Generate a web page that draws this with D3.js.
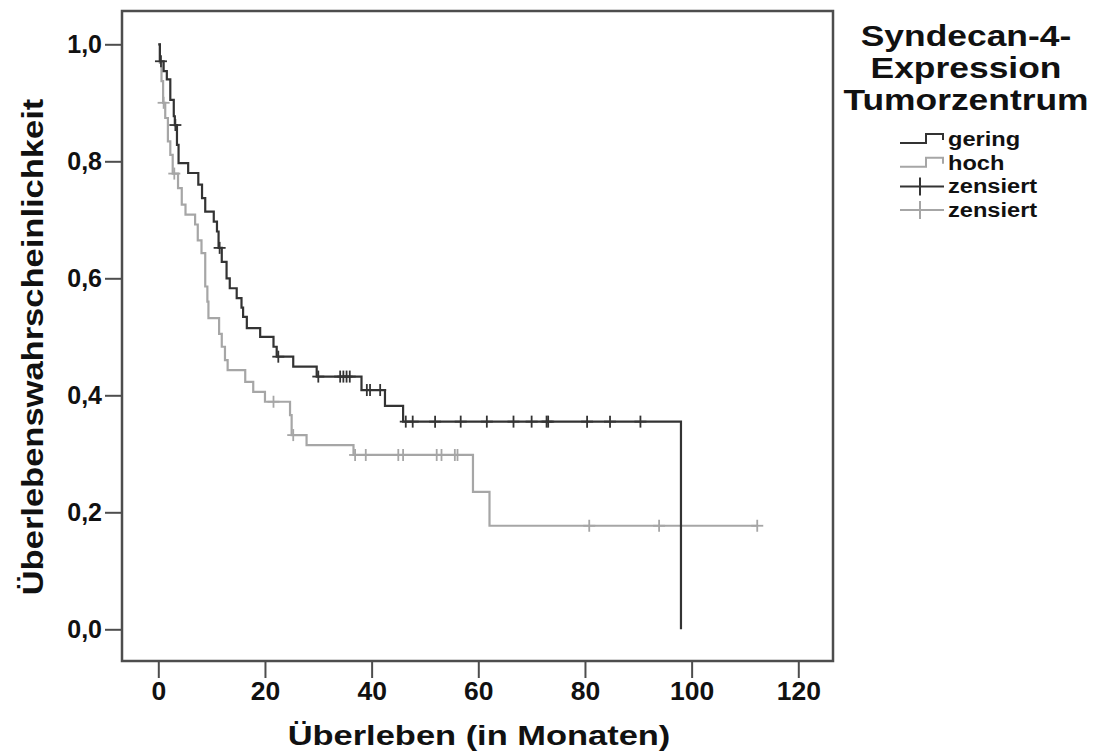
<!DOCTYPE html>
<html>
<head>
<meta charset="utf-8">
<script src="https://cdn.jsdelivr.net/npm/d3@7"></script>
<style>
  body { margin: 0; background: #fff; }
  text { font-family: "Liberation Sans", Arial, sans-serif; font-weight: bold; fill: #111; }
</style>
</head>
<body>
<div id="chart"></div>
<script>
// Kaplan-Meier steps: time (months) and survival after each event
const geringTimes = [0, 0.3, 1.0, 1.6, 2.25, 2.9, 3.1, 3.5, 3.8, 5.6, 7.5, 8.2, 8.8, 10.4, 11.0, 11.3, 11.9, 12.8, 13.4, 14.7, 15.6, 15.9, 16.6, 19.1, 21.6, 22.2, 25.3, 29.7, 38.1, 42.5, 45.9, 98.0];
const geringSurv  = [1.0, 0.971, 0.954, 0.94, 0.905, 0.877, 0.862, 0.828, 0.797, 0.78, 0.76, 0.737, 0.714, 0.697, 0.68, 0.652, 0.628, 0.6, 0.583, 0.566, 0.55, 0.534, 0.515, 0.5, 0.483, 0.466, 0.449, 0.432, 0.409, 0.382, 0.355, 0.0];
const geringCensored = [0.5, 3.2, 11.5, 22.5, 30.0, 34.1, 34.7, 35.3, 35.9, 39.1, 39.7, 41.6, 46.4, 47.7, 51.9, 56.7, 61.6, 66.6, 70.0, 72.8, 73.1, 80.4, 84.7, 90.4];

const hochTimes = [0, 0.3, 0.6, 0.9, 1.3, 1.8, 2.25, 2.7, 3.7, 4.4, 5.1, 6.9, 7.4, 8.1, 8.8, 9.2, 9.4, 11.4, 11.9, 12.5, 13.0, 16.3, 17.8, 20.0, 24.7, 25.0, 27.8, 36.6, 59.0, 62.1, 112.3];
const hochSurv  = [1.0, 0.968, 0.937, 0.9, 0.874, 0.834, 0.811, 0.779, 0.754, 0.726, 0.709, 0.692, 0.665, 0.643, 0.586, 0.56, 0.532, 0.505, 0.483, 0.46, 0.443, 0.423, 0.406, 0.389, 0.366, 0.332, 0.315, 0.298, 0.235, 0.177, 0.177];
const hochCensored = [1.0, 3.0, 21.6, 25.3, 36.9, 38.9, 45.0, 45.9, 52.2, 53.1, 55.6, 56.1, 80.8, 93.9, 112.3];

const xTicks = [0, 20, 40, 60, 80, 100, 120];
const yTicks = [0, 0.2, 0.4, 0.6, 0.8, 1.0];
const yTickLabels = ["0,0", "0,2", "0,4", "0,6", "0,8", "1,0"];

const legendTitle = ["Syndecan-4-", "Expression", "Tumorzentrum"];
const legendLabels = ["gering", "hoch", "zensiert", "zensiert"];

const width = 1095, height = 753;
const frame = {left: 122, top: 11, right: 833, bottom: 661};
const darkCol = "#333333", grayCol = "#a6a6a6";

const svg = d3.select("#chart").append("svg")
    .attr("width", width)
    .attr("height", height);

const x = d3.scaleLinear().domain([0, 120]).range([158.3, 798.3]);
const y = d3.scaleLinear().domain([0, 1]).range([629.3, 44.3]);

// stretch text horizontally like the original export
function stretch(sel, k) {
  sel.each(function() {
    const w = this.getComputedTextLength();
    d3.select(this).attr("textLength", w * k).attr("lengthAdjust", "spacingAndGlyphs");
  });
}

// axes
const yAxis = svg.append("g")
    .attr("transform", "translate(" + frame.left + ",0)")
    .call(d3.axisLeft(y).tickValues(yTicks).tickSize(17).tickPadding(3)
      .tickFormat((d, i) => yTickLabels[i]));
yAxis.select(".domain").remove();
yAxis.selectAll("line").attr("stroke", "#4d4d4d").attr("stroke-width", 2);
yAxis.selectAll("text").style("font-size", "25px").attr("fill", "#111");

const xAxis = svg.append("g")
    .attr("transform", "translate(0," + frame.bottom + ")")
    .call(d3.axisBottom(x).tickValues(xTicks).tickSize(17).tickPadding(4));
xAxis.select(".domain").remove();
xAxis.selectAll("line").attr("stroke", "#4d4d4d").attr("stroke-width", 2);
xAxis.selectAll("text").style("font-size", "25px").attr("fill", "#111");
stretch(xAxis.selectAll("text"), 1.06);

// frame
svg.append("rect")
    .attr("x", frame.left)
    .attr("y", frame.top)
    .attr("width", frame.right - frame.left)
    .attr("height", frame.bottom - frame.top)
    .attr("fill", "none")
    .attr("stroke", "#4d4d4d")
    .attr("stroke-width", 2.5);

// axis titles
const xTitle = svg.append("text")
    .attr("x", 479)
    .attr("y", 745)
    .attr("text-anchor", "middle")
    .style("font-size", "28px")
    .text("Überleben (in Monaten)");
stretch(xTitle, 1.23);

const yTitle = svg.append("text")
    .attr("transform", "translate(43,347) rotate(-90)")
    .attr("text-anchor", "middle")
    .style("font-size", "30px")
    .text("Überlebenswahrscheinlichkeit");
stretch(yTitle, 1.15);

// survival curves
const line = d3.line()
    .x(d => x(d.t))
    .y(d => y(d.s))
    .curve(d3.curveStepAfter);

function makeSeries(times, surv) {
  return times.map((t, i) => ({t: t, s: surv[i]}));
}
function survAt(series, t) {
  const i = d3.bisector(d => d.t).right(series, t) - 1;
  return series[Math.max(0, i)].s;
}

const gering = makeSeries(geringTimes, geringSurv);
const hoch = makeSeries(hochTimes, hochSurv);

const plot = svg.append("g");

plot.append("path")
    .datum(hoch)
    .attr("fill", "none")
    .attr("stroke", grayCol)
    .attr("stroke-width", 2.2)
    .attr("d", line);

plot.append("path")
    .datum(gering)
    .attr("fill", "none")
    .attr("stroke", darkCol)
    .attr("stroke-width", 2.2)
    .attr("d", line);

function drawCensors(times, series, color) {
  const g = plot.append("g").attr("stroke", color).attr("stroke-width", 1.8);
  times.forEach(t => {
    const cx = x(t), cy = y(survAt(series, t));
    g.append("line").attr("x1", cx).attr("x2", cx).attr("y1", cy - 6).attr("y2", cy + 6);
    g.append("line").attr("x1", cx - 6).attr("x2", cx + 6).attr("y1", cy).attr("y2", cy);
  });
}
drawCensors(hochCensored, hoch, grayCol);
drawCensors(geringCensored, gering, darkCol);

// legend
const legend = svg.append("g");
legendTitle.forEach((t, i) => {
  const tt = legend.append("text")
      .attr("x", 966)
      .attr("y", 46 + i * 32)
      .attr("text-anchor", "middle")
      .style("font-size", "30px")
      .text(t);
  stretch(tt, 1.18);
});

const legendColors = [darkCol, grayCol, darkCol, grayCol];
legendLabels.forEach((lab, i) => {
  const by = 146 + i * 23.7;
  const cy = by - 5;
  if (i < 2) {
    legend.append("path")
        .attr("d", "M900," + (cy + 2) + "H926V" + (cy - 7) + "H943V" + (cy - 1))
        .attr("fill", "none")
        .attr("stroke", legendColors[i])
        .attr("stroke-width", 2);
  } else {
    legend.append("line").attr("x1", 900).attr("x2", 944).attr("y1", cy - 2).attr("y2", cy - 2)
        .attr("stroke", legendColors[i]).attr("stroke-width", 2);
    legend.append("line").attr("x1", 920).attr("x2", 920).attr("y1", cy - 11).attr("y2", cy + 7)
        .attr("stroke", legendColors[i]).attr("stroke-width", 2);
  }
  const lt = legend.append("text")
      .attr("x", 948)
      .attr("y", by)
      .style("font-size", "20px")
      .text(lab);
  stretch(lt, 1.18);
});
</script>
</body>
</html>
